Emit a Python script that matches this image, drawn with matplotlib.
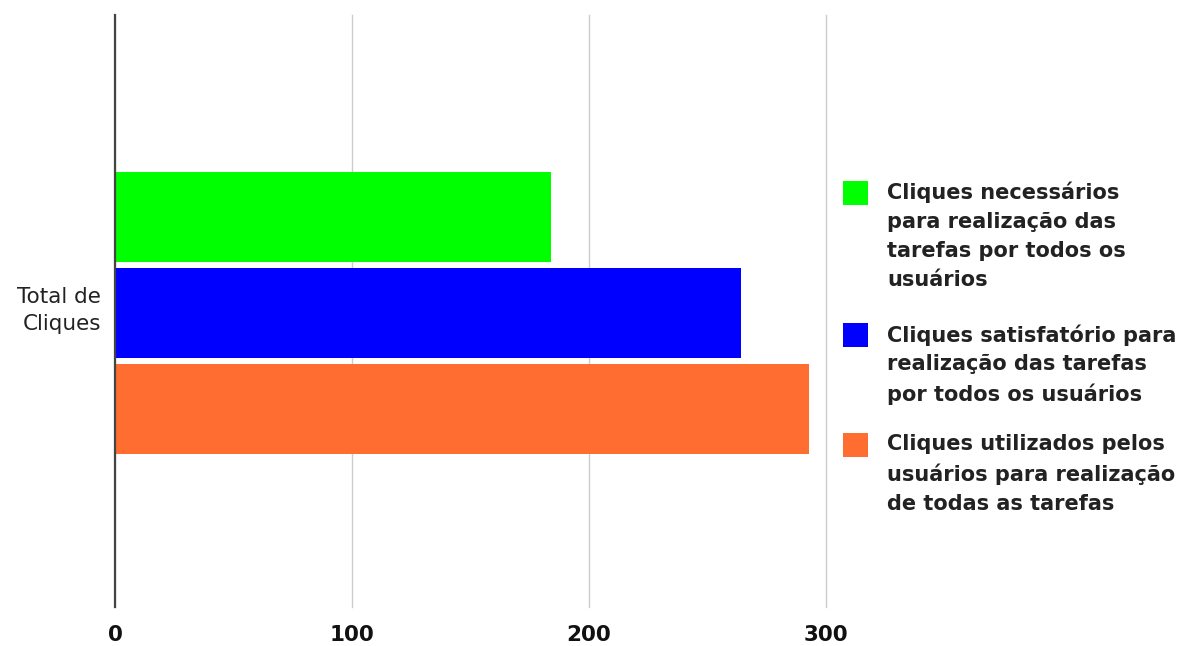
import matplotlib
matplotlib.use("Agg")
import matplotlib.pyplot as plt
from matplotlib.patches import Rectangle

# Data
category = "Total de\nCliques"
series_labels = [
    "Cliques necessários\npara realização das\ntarefas por todos os\nusuários",
    "Cliques satisfatório para\nrealização das tarefas\npor todos os usuários",
    "Cliques utilizados pelos\nusuários para realização\nde todas as tarefas",
]
series_values = [184, 264, 293]
series_colors = ["#00ff00", "#0000ff", "#ff6d31"]
x_ticks = [0, 100, 200, 300]

W, H = 1188, 646
fig = plt.figure(figsize=(W / 100, H / 100), dpi=100)
fig.patch.set_facecolor("white")

ax = fig.add_axes([115 / W, 1 - 607 / H, (826 - 115) / W, (607 - 15) / H])

bar_h = 0.152
offsets = [0.162, 0.0, -0.162]
for val, col, off in zip(series_values, series_colors, offsets):
    ax.barh(off - 0.004, val, height=bar_h, color=col, zorder=3)

ax.set_xlim(0, 300)
ax.set_ylim(-0.5, 0.5)
ax.set_xticks(x_ticks)
ax.set_xticklabels([str(t) for t in x_ticks], fontsize=15.5, fontweight="bold",
                   family="DejaVu Sans", color="#111111")
ax.set_yticks([0.01])
ax.set_yticklabels([category], fontsize=15.5, family="DejaVu Sans",
                   color="#222222", ha="right", linespacing=1.45)
ax.tick_params(axis="x", length=0, pad=13)
ax.tick_params(axis="y", length=0, pad=10)

for s in ["top", "right", "bottom"]:
    ax.spines[s].set_visible(False)
ax.spines["left"].set_color("#444444")
ax.spines["left"].set_linewidth(1.6)
ax.spines["left"].set_zorder(4)

ax.grid(axis="x", color="#cccccc", linewidth=1.0, zorder=0)
ax.grid(axis="y", visible=False)
for gl in ax.get_xgridlines():
    gl.set_clip_on(False)

# Legend drawn beside the plot
sq_tops = [181, 323, 433]
for lab, col, top in zip(series_labels, series_colors, sq_tops):
    fig.patches.append(Rectangle((843 / W, 1 - (top + 24) / H), 25 / W, 24 / H,
                                 transform=fig.transFigure, facecolor=col,
                                 edgecolor="none"))
    fig.text(887 / W, 1 - (top + 1) / H, lab, fontsize=15, fontweight="bold",
             family="DejaVu Sans", color="#222222", va="top", ha="left",
             linespacing=1.55)

fig.savefig("out.png", dpi=100, facecolor="white")
